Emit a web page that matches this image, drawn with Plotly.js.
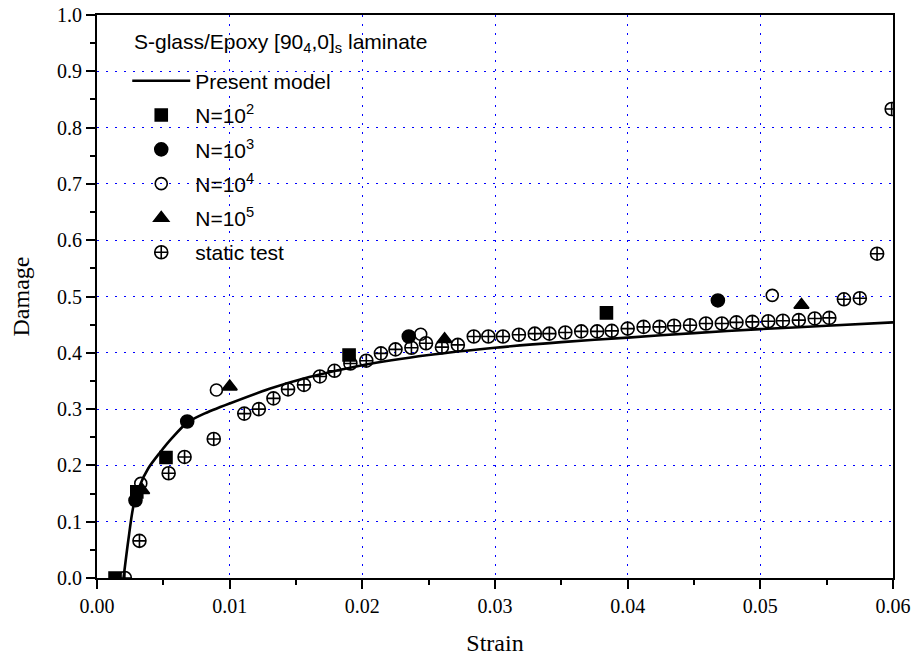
<!DOCTYPE html>
<html>
<head>
<meta charset="utf-8">
<script src="https://cdn.plot.ly/plotly-3.0.1.min.js"></script>
<style>html,body{margin:0;padding:0;background:#fff;}#chart{width:915px;height:661px;}</style>
</head>
<body>
<div id="chart"></div>
<script>
// Present model curve
const modelStrain = [0.0020, 0.00236, 0.00274, 0.00324, 0.00387, 0.00475, 0.00563, 0.0068, 0.0080, 0.0100, 0.0130, 0.0160, 0.0200, 0.0250, 0.0300, 0.0350, 0.0400, 0.0450, 0.0500, 0.0550, 0.0600];
const modelDamage = [0.0, 0.067, 0.127, 0.165, 0.195, 0.223, 0.248, 0.276, 0.291, 0.310, 0.336, 0.357, 0.378, 0.396, 0.409, 0.419, 0.427, 0.435, 0.442, 0.448, 0.454];

// Fatigue data
const n2Strain = [0.00136, 0.0030, 0.0052, 0.0190, 0.0384];
const n2Damage = [0.0, 0.153, 0.214, 0.396, 0.471];
const n3Strain = [0.0029, 0.0068, 0.0235, 0.0468];
const n3Damage = [0.138, 0.278, 0.429, 0.493];
const n4Strain = [0.0033, 0.0090, 0.0244, 0.0509];
const n4Damage = [0.168, 0.334, 0.433, 0.502];
const n5Strain = [0.0034, 0.0100, 0.0262, 0.0531];
const n5Damage = [0.156, 0.340, 0.424, 0.485];

// Static test
const staticStrain = [0.0021, 0.0032, 0.0054, 0.0066, 0.0088, 0.0111, 0.0122, 0.0133, 0.0144, 0.0156, 0.0168, 0.0179, 0.0191, 0.0203, 0.0214, 0.0225, 0.0237, 0.0248, 0.0260, 0.0272, 0.0284, 0.0295, 0.0306, 0.0318, 0.0330, 0.0341, 0.0353, 0.0365, 0.0377, 0.0388, 0.0400, 0.0412, 0.0424, 0.0435, 0.0447, 0.0459, 0.0471, 0.0482, 0.0494, 0.0506, 0.0517, 0.0529, 0.0541, 0.0552, 0.0563, 0.0575, 0.0588, 0.0599];
const staticDamage = [0.0, 0.066, 0.186, 0.215, 0.247, 0.292, 0.300, 0.319, 0.335, 0.343, 0.358, 0.368, 0.381, 0.386, 0.399, 0.406, 0.409, 0.417, 0.410, 0.414, 0.429, 0.429, 0.429, 0.432, 0.434, 0.434, 0.436, 0.438, 0.438, 0.439, 0.443, 0.446, 0.446, 0.448, 0.449, 0.452, 0.452, 0.454, 0.455, 0.456, 0.457, 0.458, 0.461, 0.462, 0.495, 0.497, 0.576, 0.833];

const legendTitle = 'S-glass/Epoxy [90<sub>4</sub>,0]<sub>s</sub> laminate';
const names = ['Present model', 'N=10<sup>2</sup>', 'N=10<sup>3</sup>', 'N=10<sup>4</sup>', 'N=10<sup>5</sup>', 'static test'];
const xTickVals = [0, 0.01, 0.02, 0.03, 0.04, 0.05, 0.06];
const xTickText = ['0.00', '0.01', '0.02', '0.03', '0.04', '0.05', '0.06'];
const yTickVals = [0, 0.1, 0.2, 0.3, 0.4, 0.5, 0.6, 0.7, 0.8, 0.9, 1.0];
const yTickText = ['0.0', '0.1', '0.2', '0.3', '0.4', '0.5', '0.6', '0.7', '0.8', '0.9', '1.0'];

const mk = (sym, size) => ({symbol: sym, size: size, color: '#000', line: {color: '#000', width: 1.6}});

const traces = [
  {x: modelStrain, y: modelDamage, mode: 'lines', name: names[0], legendgroup: 'a',
   line: {color: '#000', width: 2.6, shape: 'spline', smoothing: 0.8}},
  {x: n2Strain, y: n2Damage, mode: 'markers', name: names[1], legendgroup: 'b', marker: mk('square', 12)},
  {x: n3Strain, y: n3Damage, mode: 'markers', name: names[2], legendgroup: 'c', marker: mk('circle', 13)},
  {x: n4Strain, y: n4Damage, mode: 'markers', name: names[3], legendgroup: 'd', marker: mk('circle-open', 12)},
  {x: n5Strain, y: n5Damage, mode: 'markers', name: names[4], legendgroup: 'e', marker: mk('triangle-up', 13)},
  {x: staticStrain, y: staticDamage, mode: 'markers', name: names[5], legendgroup: 'f', marker: mk('circle-cross-open', 13)}
];

const SERIF = 'Liberation Serif, Times New Roman, serif';
const SANS = 'Liberation Sans, Arial, sans-serif';
const axisFont = {family: SERIF, size: 20, color: '#000'};
const gridDash = '2px,7px';

const layout = {
  width: 915, height: 661,
  margin: {l: 97, r: 22, t: 15, b: 83},
  paper_bgcolor: '#fff', plot_bgcolor: '#fff',
  showlegend: true,
  legend: {
    x: 0.038, y: 0.919, xanchor: 'left', yanchor: 'top',
    bgcolor: 'rgba(0,0,0,0)', borderwidth: 0,
    font: {family: SANS, size: 21, color: '#000'},
    traceorder: 'grouped', tracegroupgap: 4, itemwidth: 58
  },
  annotations: [{
    text: legendTitle, xref: 'paper', yref: 'paper', x: 0.044, y: 0.950,
    xanchor: 'left', yanchor: 'middle', showarrow: false,
    font: {family: SANS, size: 21, color: '#000'}
  }],
  xaxis: {
    range: [0, 0.06], tickvals: xTickVals, ticktext: xTickText,
    ticks: 'outside', ticklen: 9, tickwidth: 2, tickcolor: '#000',
    showline: true, linewidth: 2, linecolor: '#000', mirror: true,
    showgrid: true, gridcolor: '#0000ff', griddash: gridDash, gridwidth: 1,
    zeroline: false, tickfont: axisFont,
    minor: {dtick: 0.005, tick0: 0, ticks: 'outside', ticklen: 5, tickwidth: 2, tickcolor: '#000', showgrid: false},
    title: {text: 'Strain', font: {family: SERIF, size: 24, color: '#000'}, standoff: 18}
  },
  yaxis: {
    range: [0, 1.0], tickvals: yTickVals, ticktext: yTickText,
    ticks: 'outside', ticklen: 9, tickwidth: 2, tickcolor: '#000',
    showline: true, linewidth: 2, linecolor: '#000', mirror: true,
    showgrid: true, gridcolor: '#0000ff', griddash: gridDash, gridwidth: 1,
    zeroline: false, tickfont: axisFont,
    minor: {dtick: 0.05, tick0: 0, ticks: 'outside', ticklen: 5, tickwidth: 2, tickcolor: '#000', showgrid: false},
    title: {text: 'Damage', font: {family: SERIF, size: 24, color: '#000'}, standoff: 21}
  }
};

Plotly.newPlot('chart', traces, layout, {staticPlot: true, displayModeBar: false});
</script>
</body>
</html>
